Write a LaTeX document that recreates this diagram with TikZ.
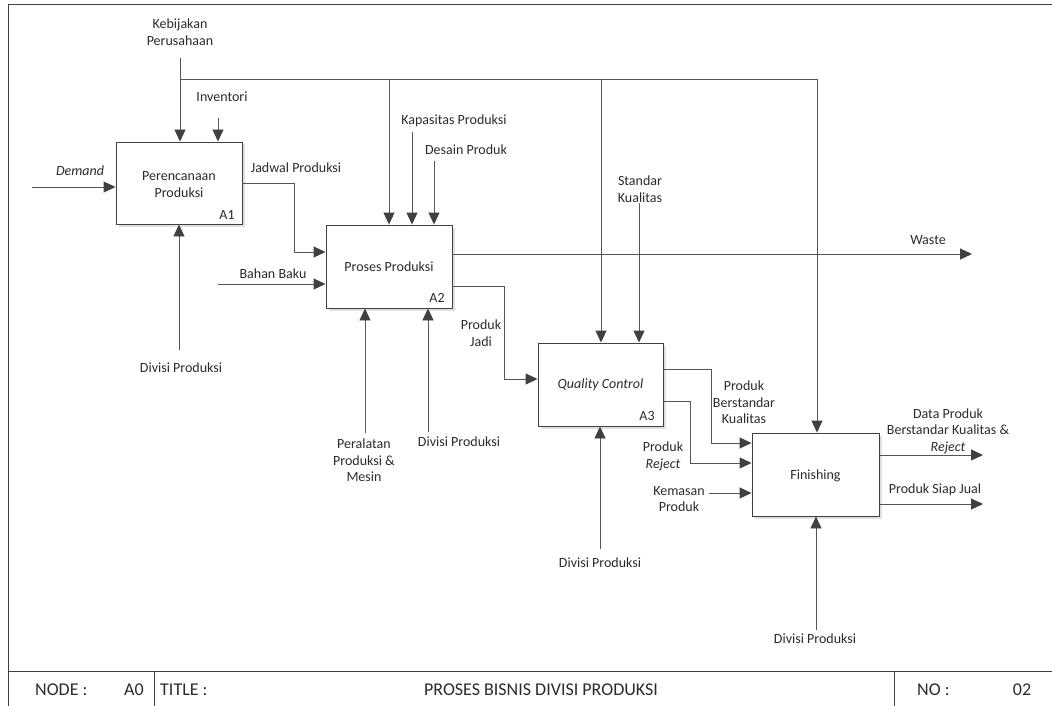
\documentclass[tikz,border=0pt]{standalone}
\usepackage{fontspec}
\setmainfont{Carlito}
\usetikzlibrary{arrows.meta,shadows}
\definecolor{ink}{HTML}{404040}
\definecolor{wire}{HTML}{555555}
\definecolor{txt}{HTML}{2B2B2B}
\tikzset{
  proc/.style={draw=ink, line width=0.9pt, fill=white, inner sep=0pt,
    drop shadow={shadow xshift=2.5pt, shadow yshift=-2.5pt, fill=black!12, opacity=1}},
  flow/.style={draw=wire, line width=0.9pt,
    -{Triangle[length=12pt,width=11pt,color=ink]}},
  wireline/.style={draw=wire, line width=0.9pt},
  lbl/.style={text=txt, font=\fontsize{14}{16.5}\selectfont, inner sep=0pt, align=center},
  barlbl/.style={text=txt, font=\fontsize{18}{20}\selectfont, inner sep=0pt},
  tag/.style={text=txt, font=\fontsize{14}{16}\selectfont, inner sep=0pt}
}
\begin{document}
\begin{tikzpicture}[x=1pt,y=-1pt]
\useasboundingbox (0,0) rectangle (1052,706);

% frame and title bar
\draw[ink, line width=0.9pt] (1052,4) -- (8,4) -- (8,706);
\draw[ink, line width=0.9pt] (8,671) -- (1052,671);
\draw[ink, line width=0.9pt] (154,671) -- (154,706);
\draw[ink, line width=0.9pt] (894,671) -- (894,706);
\node[barlbl, anchor=west] (nodelbl) at (35,690) {NODE :};
\node[barlbl] (nodeval) at (134,690) {A0};
\node[barlbl, anchor=west] (titlelbl) at (160,690) {TITLE :};
\node[barlbl] (titleval) at (541,690) {PROSES BISNIS DIVISI PRODUKSI};
\node[barlbl, anchor=west] (nolbl) at (917,690) {NO :};
\node[barlbl] (noval) at (1022,690) {02};

% activity boxes
\node[proc, minimum width=126pt, minimum height=82pt] (A1) at (179,183) {};
\node[lbl] at (179,184.5) {Perencanaan\\Produksi};
\node[tag] at (227,215) {A1};

\node[proc, minimum width=126pt, minimum height=83pt] (A2) at (389,266.5) {};
\node[lbl] at (389,267) {Proses Produksi};
\node[tag] at (437,298) {A2};

\node[proc, minimum width=125pt, minimum height=83pt] (A3) at (600.5,384.5) {};
\node[lbl] at (600.5,385) {\itshape Quality Control};
\node[tag] at (647,416) {A3};

\node[proc, minimum width=127pt, minimum height=83pt] (A4) at (815.5,474.5) {};
\node[lbl] at (815.5,476) {Finishing};

% controls from the top
\node[lbl] (kbl) at (180,32) {Kebijakan\\Perusahaan};
\coordinate (kb) at (180,58);
\coordinate (bus) at (180,79);
\coordinate (b2) at (389,79);
\coordinate (b3) at (601,79);
\coordinate (b4) at (817,79);
\draw[flow] (kb) -- (kb |- A1.north);
\draw[wireline] (bus) -- (b4);
\draw[flow] (b2) -- (b2 |- A2.north);
\draw[flow] (b3) -- (b3 |- A3.north);
\draw[flow] (b4) -- (b4 |- A4.north);

\node[lbl] (invl) at (222,97) {Inventori};
\coordinate (inv) at (218,118);
\draw[flow] (inv) -- (inv |- A1.north);

\node[lbl] (kapl) at (454,121) {Kapasitas Produksi};
\coordinate (kp) at (412,132);
\draw[flow] (kp) -- (kp |- A2.north);

\node[lbl] (desl) at (466,150) {Desain Produk};
\coordinate (ds) at (434,161);
\draw[flow] (ds) -- (ds |- A2.north);

\node[lbl] (skl) at (640,189) {Standar\\Kualitas};
\coordinate (sk) at (639,203);
\draw[flow] (sk) -- (sk |- A3.north);

% inputs
\node[lbl] (deml) at (80,171) {\itshape Demand};
\coordinate (dem) at (32,187);
\draw[flow] (dem) -- (dem -| A1.west);

\node[lbl] (bbl) at (273,274) {Bahan Baku};
\coordinate (bb) at (218,284);
\draw[flow] (bb) -- (bb -| A2.west);

\node[lbl] (kml) at (679,499) {Kemasan\\Produk};
\coordinate (km) at (709,493);
\draw[flow] (km) -- (km -| A4.west);

% links between activities
\node[lbl] (jdl) at (296,168) {Jadwal Produksi};
\coordinate (jd) at (294,252);
\draw[flow] (A1.east) -| (jd) -- (jd -| A2.west);

\node[lbl] (pjl) at (481,333) {Produk\\Jadi};
\coordinate (pj) at (504,286);
\coordinate (pj2) at (504,379);
\draw[flow] (A2.east |- pj) -- (pj) -- (pj2) -- (pj2 -| A3.west);

\node[lbl] (pbl) at (744,402.5) {Produk\\Berstandar\\Kualitas};
\coordinate (pb) at (711,369);
\coordinate (pb2) at (711,443);
\draw[flow] (A3.east |- pb) -- (pb) -- (pb2) -- (pb2 -| A4.west);

\node[lbl] (prl) at (663,456.5) {Produk\\\itshape Reject};
\coordinate (rj) at (690,401);
\coordinate (rj2) at (690,463);
\draw[flow] (A3.east |- rj) -- (rj) -- (rj2) -- (rj2 -| A4.west);

% mechanisms from below
\node[lbl] (d1l) at (181,368) {Divisi Produksi};
\coordinate (d1) at (179,350);
\draw[flow] (d1) -- (d1 |- A1.south);

\node[lbl] (perl) at (364,460.5) {Peralatan\\Produksi \&\\Mesin};
\coordinate (pr) at (365,433);
\draw[flow] (pr) -- (pr |- A2.south);

\node[lbl] (d2l) at (459,442) {Divisi Produksi};
\coordinate (d2) at (428,432);
\draw[flow] (d2) -- (d2 |- A2.south);

\node[lbl] (d3l) at (600,563) {Divisi Produksi};
\coordinate (d3) at (600,549);
\draw[flow] (d3) -- (d3 |- A3.south);

\node[lbl] (d4l) at (815,639) {Divisi Produksi};
\coordinate (d4) at (816,630);
\draw[flow] (d4) -- (d4 |- A4.south);

% outputs
\node[lbl] (wsl) at (928,240) {Waste};
\coordinate (ws) at (972,254);
\draw[flow] (A2.east |- ws) -- (ws);

\node[lbl] (dpl) at (948,431) {Data Produk\\Berstandar Kualitas \&\\\itshape Reject};
\coordinate (dp) at (983,455);
\draw[flow] (A4.east |- dp) -- (dp);

\node[lbl] (sjl) at (935,490) {Produk Siap Jual};
\coordinate (sj) at (983,504);
\draw[flow] (A4.east |- sj) -- (sj);
\end{tikzpicture}
\end{document}
